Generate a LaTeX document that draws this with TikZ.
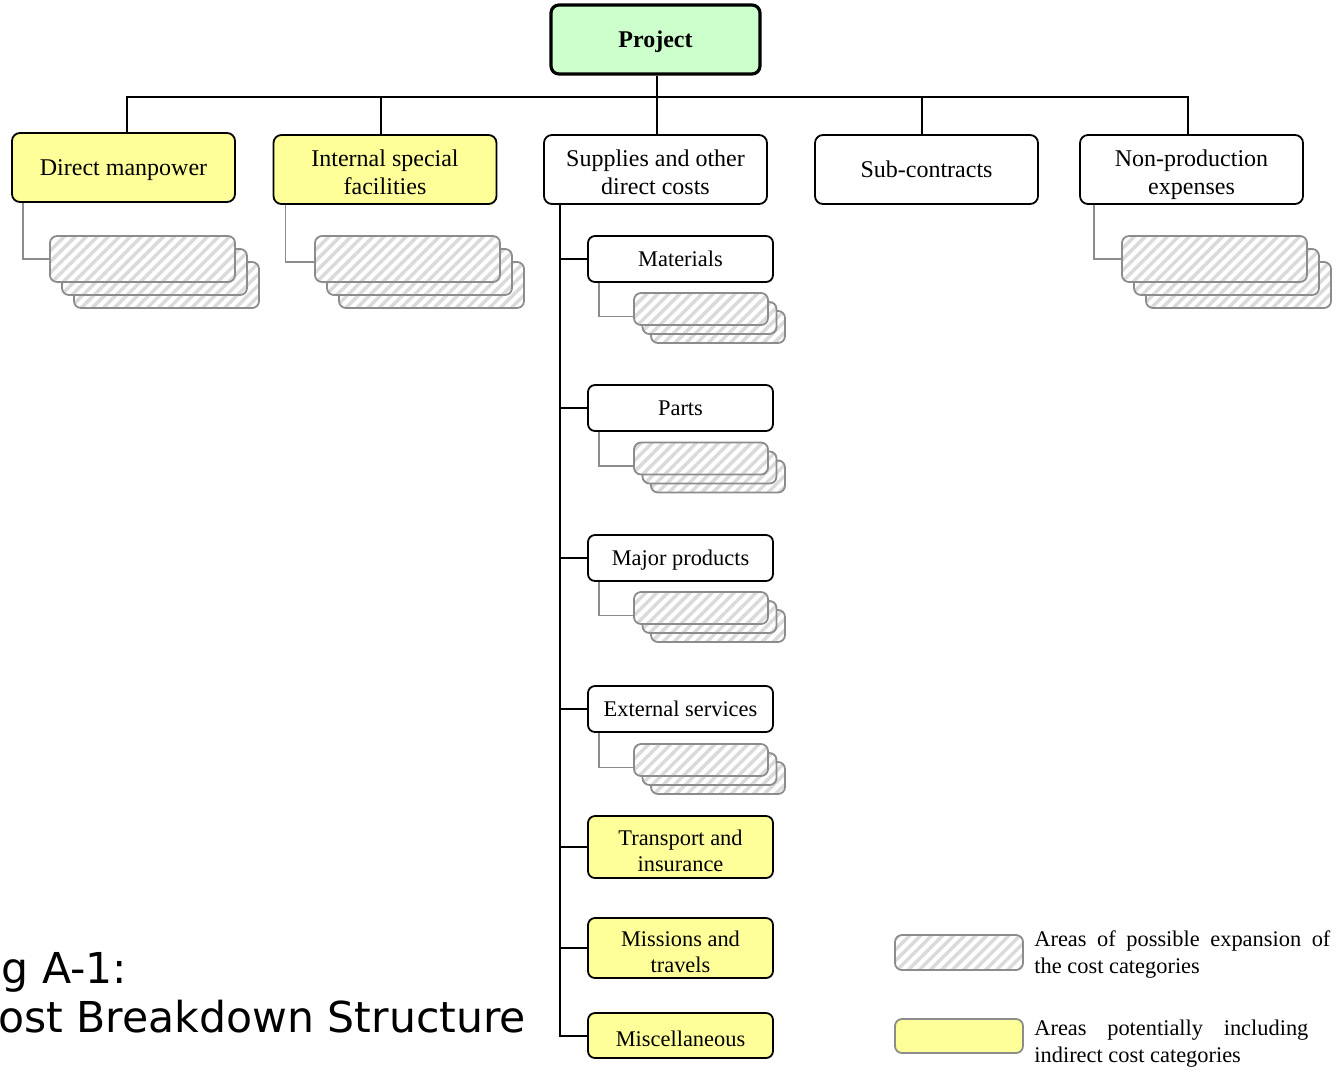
\documentclass[tikz,border=0pt]{standalone}
\usepackage{fontspec}
\setmainfont{Liberation Serif}
\newfontfamily\capfont{DejaVu Sans}
\usetikzlibrary{patterns.meta}

\definecolor{yelfill}{HTML}{FFFF99}
\definecolor{projfill}{HTML}{CCFFCC}
\definecolor{hatchedge}{HTML}{8C8C8C}
\definecolor{hatchline}{HTML}{DADADA}

% struts that fix where the label lines sit in their boxes
\newcommand\toprule[1]{\rule{0pt}{#1}}
\newcommand\botrule[1]{\rule[-#1]{0pt}{#1}}

\tikzset{
  box/.style={draw, rounded corners=4pt, line width=0.9pt, minimum width=111.5pt,
    minimum height=34.5pt, inner sep=1pt, align=center,
    font=\fontsize{12}{13.8}\selectfont},
  yel/.style={fill=yelfill},
  subbox/.style={box, minimum width=92.5pt, minimum height=23pt, inner ysep=0pt,
    rounded corners=3.5pt, font=\fontsize{11.2}{13.3}\selectfont},
  hatch/.style={draw=hatchedge, line width=0.9pt, rounded corners=3.5pt, inner sep=0pt,
    preaction={fill=white},
    pattern={Lines[angle=45,distance=3.9pt,line width=1.7pt]}, pattern color=hatchline},
  bigleaf/.style={hatch, minimum width=92.5pt, minimum height=23pt},
  smallleaf/.style={hatch, minimum width=67pt, minimum height=16pt},
  link/.style={line width=1pt},
  sublink/.style={draw=hatchedge, line width=0.8pt},
  legendtext/.style={anchor=base west, inner sep=0pt, align=left,
    font=\fontsize{11.2}{13.2}\selectfont},
  captext/.style={anchor=base west, inner sep=0pt,
    font=\capfont\fontsize{21.3}{24}\selectfont},
}

% label helpers: one or two lines, with fixed ascent and descent
\newcommand\bigone[1]{\toprule{10.8pt}#1\botrule{2.8pt}}
\newcommand\bigtwo[2]{\toprule{13.8pt}#1\\#2\botrule{2.8pt}}
\newcommand\smallone[2][9.8pt]{\toprule{#1}#2\botrule{2.6pt}}
\newcommand\smalltwo[2]{\toprule{14pt}#1\\#2\botrule{2.6pt}}

% a stack of three hatched boxes: style, name, front x, front y, step x, step y
\newcommand\leafstack[6]{%
  \node[#1] (#2-3) at ({#3+2*#5},{#4+2*#6}) {};
  \node[#1] (#2-2) at ({#3+#5},{#4+#6}) {};
  \node[#1] (#2) at (#3,#4) {};
}

\begin{document}
\begin{tikzpicture}[x=0.5pt,y=-0.5pt]
\useasboundingbox (0,0) rectangle (1336,1073);
\clip (0,0) rectangle (1336,1073);

% root
\node[box, fill=projfill, line width=1.6pt, minimum width=104.5pt,
      font=\fontsize{12}{13.8}\selectfont\bfseries] (proj) at (655.5,39.5) {\bigone{Project}};

% first level
\node[box, yel] (dm)  at (123.5,167.5) {\bigone{Direct manpower}};
\node[box, yel] (isf) at (385,169.5)   {\bigtwo{Internal special}{facilities}};
\node[box]      (sup) at (655.5,169.5) {\bigtwo{Supplies and other}{direct costs}};
\node[box]      (sub) at (926.5,169.5) {\bigone{Sub-contracts}};
\node[box]      (npe) at (1191.5,169.5){\bigtwo{Non-production}{expenses}};

% bus
\coordinate (bus) at (0,97);
\draw[link] ([xshift=0.75pt]sup.north |- proj.south) -- ([xshift=0.75pt]sup.north |- bus);
\draw[link] ([xshift=1.75pt]dm.north) -- ([xshift=1.75pt]dm.north |- bus)
  -- ([xshift=-1.75pt]npe.north |- bus) -- ([xshift=-1.75pt]npe.north);
\draw[link] ([xshift=-2pt]isf.north) -- ([xshift=-2pt]isf.north |- bus);
\draw[link] ([xshift=0.75pt]sup.north) -- ([xshift=0.75pt]sup.north |- bus);
\draw[link] ([xshift=-2.25pt]sub.north) -- ([xshift=-2.25pt]sub.north |- bus);

% second level under supplies
\node[subbox] (mat) at (680.5,259) {\smallone{Materials}};
\node[subbox] (par) at (680.5,408) {\smallone{Parts}};
\node[subbox] (maj) at (680.5,558) {\smallone{Major products}};
\node[subbox] (ext) at (680.5,709) {\smallone{External services}};
\node[subbox, yel, minimum height=31pt] (tra) at (680.5,847)
  {\smalltwo{Transport and}{insurance}};
\node[subbox, yel, minimum height=30pt] (mis) at (680.5,948)
  {\smalltwo{Missions and}{travels}};
\node[subbox, yel, minimum height=22.5pt] (misc) at (680.5,1035.5)
  {\smallone[14pt]{Miscellaneous}};

\coordinate (trunk) at ([xshift=8.5pt]sup.south west);
\draw[link] (trunk) |- (misc.west);
\foreach \n in {mat,par,maj,ext,tra,mis}
  \draw[link] (\n.west) -- (\n.west -| trunk);

% expansion stacks
\leafstack{bigleaf}{dmleaf}{142.5}{259}{12}{13}
\leafstack{bigleaf}{isfleaf}{407.5}{259}{12}{13}
\leafstack{bigleaf}{npeleaf}{1214.5}{259}{12}{13}
\draw[sublink] ([xshift=6pt]dm.south west) |- (dmleaf.west);
\draw[sublink] ([xshift=6.5pt]isf.south west) |- ([yshift=-1.5pt]isfleaf.west);
\draw[sublink] ([xshift=7.5pt]npe.south west) |- (npeleaf.west);

\leafstack{smallleaf}{matleaf}{701}{309}{8.5}{9}
\leafstack{smallleaf}{parleaf}{701}{458.5}{8.5}{9}
\leafstack{smallleaf}{majleaf}{701}{608}{8.5}{9}
\leafstack{smallleaf}{extleaf}{701}{760}{8.5}{9}
\foreach \n in {mat,par,maj,ext}
  \draw[sublink] ([xshift=6pt]\n.south west) |- ([yshift=-3.7pt]\n leaf.west);

% legend
\node[hatch, minimum width=64pt, minimum height=17.5pt] (leghatch) at (959,952.5) {};
\node[draw=hatchedge, fill=yelfill, line width=0.9pt, rounded corners=3.5pt,
      minimum width=64pt, minimum height=17pt, inner sep=0pt] (legyel) at (959,1036) {};
\node[legendtext] (leghatchtxt) at (1034,973)
  {\makebox[148pt][s]{Areas of possible expansion of}\\the cost categories};
\node[legendtext] (legyeltxt) at (1034,1062)
  {\makebox[137pt][s]{Areas potentially including}\\indirect cost categories};

% caption
\node[captext] (figno) at (-32,983) {Fig A-1:};
\node[captext] (figtitle) at (-32,1032) {Cost Breakdown Structure};
\end{tikzpicture}
\end{document}
